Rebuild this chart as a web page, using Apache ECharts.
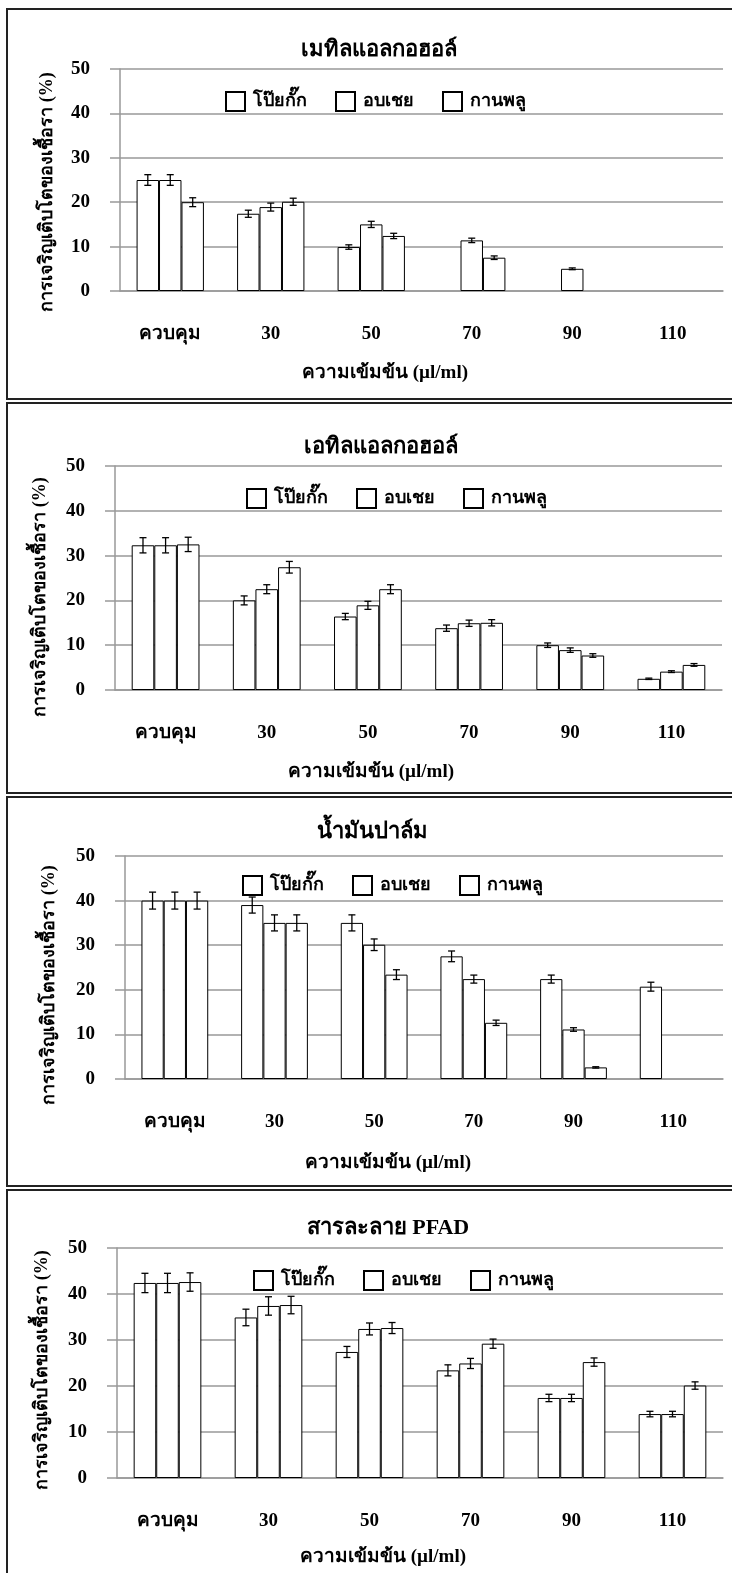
<!DOCTYPE html>
<html>
<head>
<meta charset="utf-8">
<script src="https://cdn.jsdelivr.net/npm/echarts@6/dist/echarts.min.js"></script>
<style>
  html, body { margin: 0; padding: 0; background: #fff; }
  #chart { width: 732px; height: 1573px; }
</style>
</head>
<body>
<div id="chart"></div>
<script>
// categories and series
const categories = ["ควบคุม", "30", "50", "70", "90", "110"];
const seriesNames = ["โป๊ยกั๊ก", "อบเชย", "กานพลู"];
const panelTitles = ["เมทิลแอลกอฮอล์", "เอทิลแอลกอฮอล์", "น้ำมันปาล์ม", "สารละลาย PFAD"];
const xTitle = "ความเข้มข้น (µl/ml)";
const yTitle = "การเจริญเติบโตของเชื้อรา (%)";

// เมทิลแอลกอฮอล์
const methAnise = [25, 17.4, 9.9, 0, 0, 0];
const methCinnamon = [25, 18.9, 15.0, 11.4, 5.0, 0];
const methClove = [20, 20.1, 12.4, 7.5, 0, 0];
const methAniseErr = [1.2, 0.8, 0.5, 0, 0, 0];
const methCinnamonErr = [1.2, 0.9, 0.7, 0.5, 0.2, 0];
const methCloveErr = [1.0, 0.8, 0.6, 0.4, 0, 0];

// เอทิลแอลกอฮอล์
const ethAnise = [32.3, 20.0, 16.4, 13.8, 10.0, 2.5];
const ethCinnamon = [32.3, 22.5, 18.9, 14.9, 8.9, 4.1];
const ethClove = [32.5, 27.4, 22.5, 15.0, 7.7, 5.6];
const ethAniseErr = [1.7, 1.0, 0.7, 0.7, 0.5, 0.15];
const ethCinnamonErr = [1.7, 1.0, 0.9, 0.7, 0.5, 0.2];
const ethCloveErr = [1.6, 1.3, 1.0, 0.7, 0.4, 0.3];

// น้ำมันปาล์ม
const palmAnise = [40, 39.0, 35.0, 27.5, 22.4, 20.7];
const palmCinnamon = [40, 35.0, 30.1, 22.4, 11.1, 0];
const palmClove = [40, 35.0, 23.4, 12.6, 2.6, 0];
const palmAniseErr = [1.9, 1.8, 1.8, 1.2, 0.9, 1.0];
const palmCinnamonErr = [1.9, 1.8, 1.3, 0.9, 0.4, 0];
const palmCloveErr = [1.9, 1.8, 1.1, 0.6, 0.15, 0];

// สารละลาย PFAD
const pfadAnise = [42.4, 34.9, 27.4, 23.4, 17.4, 13.9];
const pfadCinnamon = [42.4, 37.4, 32.4, 24.9, 17.4, 13.9];
const pfadClove = [42.6, 37.6, 32.6, 29.2, 25.2, 20.1];
const pfadAniseErr = [2.1, 1.8, 1.2, 1.2, 0.8, 0.6];
const pfadCinnamonErr = [2.1, 2.0, 1.3, 1.1, 0.8, 0.6];
const pfadCloveErr = [2.0, 1.9, 1.2, 1.0, 0.9, 0.8];

const panelValues = [
  [methAnise, methCinnamon, methClove],
  [ethAnise, ethCinnamon, ethClove],
  [palmAnise, palmCinnamon, palmClove],
  [pfadAnise, pfadCinnamon, pfadClove]
];
const panelErrors = [
  [methAniseErr, methCinnamonErr, methCloveErr],
  [ethAniseErr, ethCinnamonErr, ethCloveErr],
  [palmAniseErr, palmCinnamonErr, palmCloveErr],
  [pfadAniseErr, pfadCinnamonErr, pfadCloveErr]
];

// layout of each panel (pixels)
const layout = [
  { box: [7, 9, 390], grid: [120, 69, 603, 222], title: [374, 45], legend: [220, 86], xt: [385, 373], yt: [47, 192] },
  { box: [7, 403, 390], grid: [115, 466, 607, 224], title: [376, 442], legend: [241, 483], xt: [371, 772], yt: [40, 597] },
  { box: [7, 797, 389], grid: [125, 856, 598, 223], title: [367, 827], legend: [237, 870], xt: [388, 1163], yt: [49, 985] },
  { box: [7, 1190, 400], grid: [117, 1248, 606, 230], title: [383, 1223], legend: [248, 1265], xt: [383, 1557], yt: [42, 1370] }
];

const FONT = "'Liberation Serif', 'DejaVu Serif', serif";
const CAT_GAP = 0.33;

var myChart = echarts.init(document.getElementById("chart"));

let grids = [], xAxes = [], yAxes = [], titles = [], legends = [], series = [], graphics = [];

layout.forEach(function (p, n) {
  grids.push({ left: p.grid[0], top: p.grid[1], width: p.grid[2], height: p.grid[3] });
  titles.push({
    text: panelTitles[n], left: p.title[0], top: p.title[1], textAlign: "center", textVerticalAlign: "middle",
    textStyle: { fontFamily: FONT, fontWeight: "bold", fontSize: 22, color: "#000" }
  });
  legends.push({
    data: seriesNames, left: p.legend[0], top: p.legend[1], icon: "rect",
    itemWidth: 19, itemHeight: 19, itemGap: 28, selectedMode: false,
    textStyle: { fontFamily: FONT, fontWeight: "bold", fontSize: 18, color: "#000", padding: [0, 0, 0, 3] }
  });
  xAxes.push({
    type: "category", gridIndex: n, data: categories,
    axisLine: { lineStyle: { color: "#999", width: 1.5 } },
    axisTick: { length: 10, lineStyle: { color: "#999", width: 1.5 } },
    axisLabel: { margin: 34, fontFamily: FONT, fontWeight: "bold", fontSize: 19, color: "#000" }
  });
  yAxes.push({
    type: "value", gridIndex: n, min: 0, max: 50, interval: 10,
    axisLine: { show: true, lineStyle: { color: "#999", width: 1.5 } },
    axisTick: { show: true, length: 10, lineStyle: { color: "#999", width: 1.5 } },
    splitLine: { lineStyle: { color: "#999", width: 1.5 } },
    axisLabel: { margin: 30, fontFamily: FONT, fontWeight: "bold", fontSize: 19, color: "#000" }
  });

  seriesNames.forEach(function (name, k) {
    series.push({
      name: name, type: "bar", xAxisIndex: n, yAxisIndex: n,
      // zero-growth bars are not outlined in the source figure
      data: panelValues[n][k].map(function (v) {
        return v === 0 ? { value: 0, itemStyle: { borderWidth: 0 } } : v;
      }),
      barGap: "0%", barCategoryGap: CAT_GAP * 100 + "%",
      itemStyle: { color: "#fff", borderColor: "#000", borderWidth: 1 },
      emphasis: { disabled: true }
    });
  });
  seriesNames.forEach(function (name, k) {
    series.push({
      name: "err" + n + k, type: "custom", xAxisIndex: n, yAxisIndex: n, z: 5,
      data: panelValues[n][k].map(function (v, i) { return [i, v, panelErrors[n][k][i]]; }),
      renderItem: function (params, api) {
        const i = api.value(0), v = api.value(1), e = api.value(2);
        if (!e) return;
        const bw = api.size([1, 0])[0] * (1 - CAT_GAP) / 3;
        const x = api.coord([i, v])[0] + (k - 1) * bw;
        const hi = api.coord([i, v + e])[1], lo = api.coord([i, v - e])[1];
        const style = { stroke: "#000", lineWidth: 1.3 };
        return {
          type: "group", children: [
            { type: "line", shape: { x1: x, y1: hi, x2: x, y2: lo }, style: style },
            { type: "line", shape: { x1: x - 3.5, y1: hi, x2: x + 3.5, y2: hi }, style: style },
            { type: "line", shape: { x1: x - 3.5, y1: lo, x2: x + 3.5, y2: lo }, style: style }
          ]
        };
      }
    });
  });

  graphics.push({
    type: "rect", shape: { x: p.box[0], y: p.box[1], width: 760, height: p.box[2] },
    style: { fill: null, stroke: "#222", lineWidth: 2 }, z: 100
  });
  graphics.push({
    type: "text", x: p.xt[0], y: p.xt[1],
    style: { text: xTitle, align: "center", verticalAlign: "middle", fill: "#000", font: "bold 19px " + FONT }
  });
  graphics.push({
    type: "text", x: p.yt[0], y: p.yt[1], rotation: Math.PI / 2,
    style: { text: yTitle, align: "center", verticalAlign: "middle", fill: "#000", font: "bold 18px " + FONT }
  });
});

let option = {
  backgroundColor: "#fff",
  animation: false,
  title: titles,
  legend: legends,
  grid: grids,
  xAxis: xAxes,
  yAxis: yAxes,
  series: series,
  graphic: graphics
};

myChart.setOption(option);
</script>
</body>
</html>
